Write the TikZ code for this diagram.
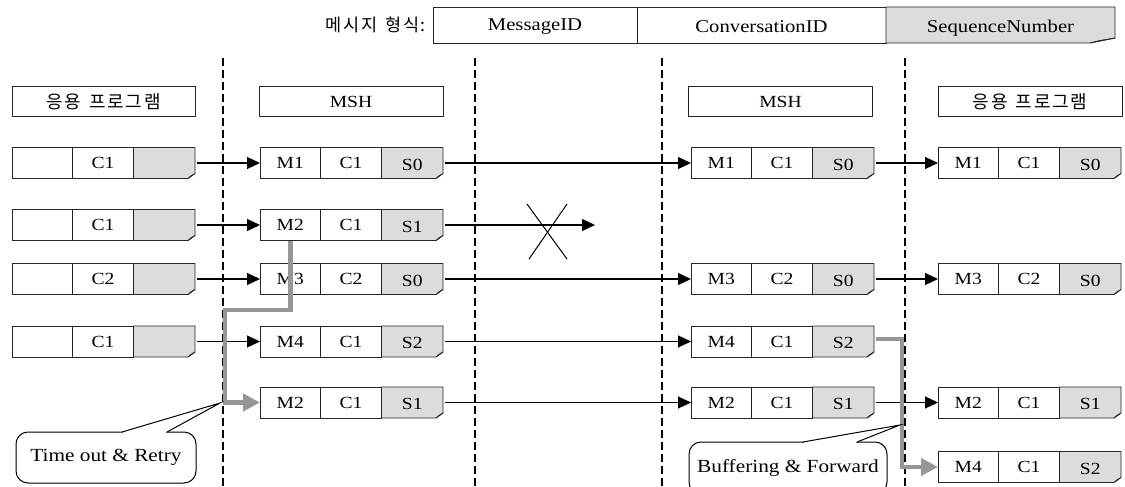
\documentclass[tikz,border=0pt]{standalone}
\usepackage{fontspec}
\setmainfont{Liberation Serif}[FakeStretch=1.15]
\newfontfamily\kr{Noto Sans CJK KR}[LetterSpace=10]
\usetikzlibrary{arrows.meta}

\definecolor{seqgrey}{RGB}{220,220,220}
\definecolor{flowgrey}{RGB}{150,150,150}

\tikzset{
  base/.style={line width=0.9pt, draw=black!85},
  cell/.style={base, minimum height=31pt, inner sep=0pt, outer sep=0pt,
    font=\fontsize{17}{20}\selectfont},
  topcell/.style={base, minimum height=36pt, inner sep=0pt, outer sep=0pt},
  toptext/.style={inner sep=0pt, font=\fontsize{18}{21}\selectfont, yshift=-2pt},
  hdr/.style={base, minimum width=184pt, minimum height=30pt, inner sep=0pt,
    font=\kr\fontsize{18}{21}\selectfont},
  latinhdr/.style={hdr, font=\fontsize{17}{20}\selectfont},
  celltext/.style={inner sep=0pt, font=\fontsize{17}{20}\selectfont},
  divider/.style={line width=1.4pt, dash pattern=on 8pt off 4pt},
  flow/.style={line width=1.1pt, -{Triangle[length=13pt,width=12pt]}, shorten <=2pt},
  retry/.style={line width=4.5pt, draw=flowgrey, line join=miter,
    -{Triangle[length=17pt,width=17pt]}},
  callout/.style={draw, line width=1pt, fill=white, rounded corners=12pt,
    inner sep=0pt, font=\fontsize{18.5}{21}\selectfont},
  cross/.style={line width=1pt},
}

% grey sequence cell with a folded bottom-right corner
\newcommand\foldcell[3]{%
  \draw[base, fill=seqgrey] (#1.north west) -- (#1.north east)
    -- ([yshift=#3pt]#1.south east) -- ([xshift=-#2pt]#1.south east)
    -- (#1.south west) -- cycle;
  \filldraw[line width=0.6pt, draw=black!85, fill=black!55]
    ([yshift=#3pt]#1.south east) -- ([xshift=-#2pt]#1.south east)
    -- ([xshift=-0.62*#2pt, yshift=0.5*#3pt]#1.south east) -- cycle;
}

% one message: name, x, y, id, conversation, sequence
\newcommand\msg[6]{%
  \node[cell, minimum width=60.5pt, anchor=west] (#1a) at (#2,#3) {#4};
  \node[cell, minimum width=61pt, anchor=west] (#1b) at (#1a.east) {#5};
  \node[cell, draw=none, minimum width=61.5pt, anchor=west] (#1c) at (#1b.east) {};
  \foldcell{#1c}{7}{5}
  \node[celltext, yshift=-1.5pt] (#1t) at (#1c.center) {#6};
}

\begin{document}
\begin{tikzpicture}[x=1pt, y=-1pt]
\useasboundingbox (0,0) rectangle (1125,487);

% message format bar
\node[anchor=east, inner sep=0pt, font=\kr\fontsize{17.5}{21}\selectfont] (fmtlabel) at (426,25) {메시지\hspace{8pt}형식:};
\node[topcell, minimum width=204pt, anchor=west] (fmid) at (433,25) {};
\node[topcell, minimum width=249pt, anchor=west] (fconv) at (fmid.east) {};
\node[topcell, draw=none, minimum width=229pt, anchor=west] (fseq) at (fconv.east) {};
\foldcell{fseq}{25}{5}
\node[toptext] (fmidt) at (fmid.center) {MessageID};
\node[toptext] (fconvt) at (fconv.center) {ConversationID};
\node[toptext, yshift=-1.5pt] (fseqt) at (fseq.center) {SequenceNumber};

% tier boundaries
\draw[divider] (223,58) -- (223,487);
\draw[divider] (475,58) -- (475,487);
\draw[divider] (662,58) -- (662,487);
\draw[divider] (905,58) -- (905,487);

% column headers
\node[hdr, minimum width=183pt] (happL) at (103.5,101.5) {응용\hspace{8pt}프로그램};
\node[latinhdr] (hmshL) at (351,101.5) {MSH};
\node[latinhdr] (hmshR) at (780.5,101.5) {MSH};
\node[hdr] (happR) at (1030,101.5) {응용\hspace{8pt}프로그램};

% sending application
\msg{sa1}{12}{163}{}{C1}{}
\msg{sa2}{12}{225}{}{C1}{}
\msg{sa3}{12}{279}{}{C2}{}
\msg{sa4}{12}{341.5}{}{C1}{}

% sending MSH
\msg{sm1}{260}{163}{M1}{C1}{S0}
\msg{sm2}{260}{225}{M2}{C1}{S1}
\msg{sm3}{260}{279}{M3}{C2}{S0}
\msg{sm4}{260}{341.5}{M4}{C1}{S2}
\msg{sm5}{260}{402.5}{M2}{C1}{S1}

% receiving MSH
\msg{rm1}{691}{163}{M1}{C1}{S0}
\msg{rm3}{691}{279}{M3}{C2}{S0}
\msg{rm4}{691}{341.5}{M4}{C1}{S2}
\msg{rm5}{691}{402.5}{M2}{C1}{S1}

% receiving application
\msg{ra1}{938}{163}{M1}{C1}{S0}
\msg{ra3}{938}{279}{M3}{C2}{S0}
\msg{ra5}{938}{402.5}{M2}{C1}{S1}
\msg{ra6}{938}{467}{M4}{C1}{S2}

% application -> MSH
\draw[flow] (sa1c.east) -- (sm1a.west);
\draw[flow] (sa2c.east) -- (sm2a.west);
\draw[flow] (sa3c.east) -- (sm3a.west);
\draw[flow] (sa4c.east) -- (sm4a.west);

% MSH -> MSH
\coordinate (lost) at (595,225);
\draw[flow] (sm1c.east) -- (rm1a.west);
\draw[flow] (sm2c.east) -- (lost);
\draw[flow] (sm3c.east) -- (rm3a.west);
\draw[flow] (sm4c.east) -- (rm4a.west);
\draw[flow] (sm5c.east) -- (rm5a.west);

% lost message
\draw[cross] (527,204) -- (567,259);
\draw[cross] (567,204) -- (529,259);

% MSH -> application
\draw[flow] (rm1c.east) -- (ra1a.west);
\draw[flow] (rm3c.east) -- (ra3a.west);
\draw[flow] (rm5c.east) -- (ra5a.west);

% retransmission and reordering
\coordinate (bendA) at (225,310);
\draw[retry] (sm2a.south) |- (bendA) |- (sm5a.west);
\coordinate (bendB) at (902,339);
\draw[retry] ([xshift=2pt]rm4c.east |- bendB) -- (bendB) |- (ra6a.west);

% callouts
\node[callout, minimum width=180pt, minimum height=51pt] (retrynote) at (106,457.5) {Time out \& Retry};
\coordinate (retrytip) at (220,403);
\fill[white] (123,434) -- (123,432) -- (retrytip) -- (166,432) -- (166,434) -- cycle;
\draw[line width=1pt] (122,432) -- (retrytip) -- (167,432);

\node[callout, minimum width=198pt, minimum height=52pt] (buffernote) at (788,468) {Buffering \& Forward};
\coordinate (buffertip) at (900,425);
\fill[white] (804,444) -- (804,442) -- (buffertip) -- (856,442) -- (856,444) -- cycle;
\draw[line width=1pt] (803,442) -- (buffertip) -- (857,442);
\end{tikzpicture}
\end{document}
